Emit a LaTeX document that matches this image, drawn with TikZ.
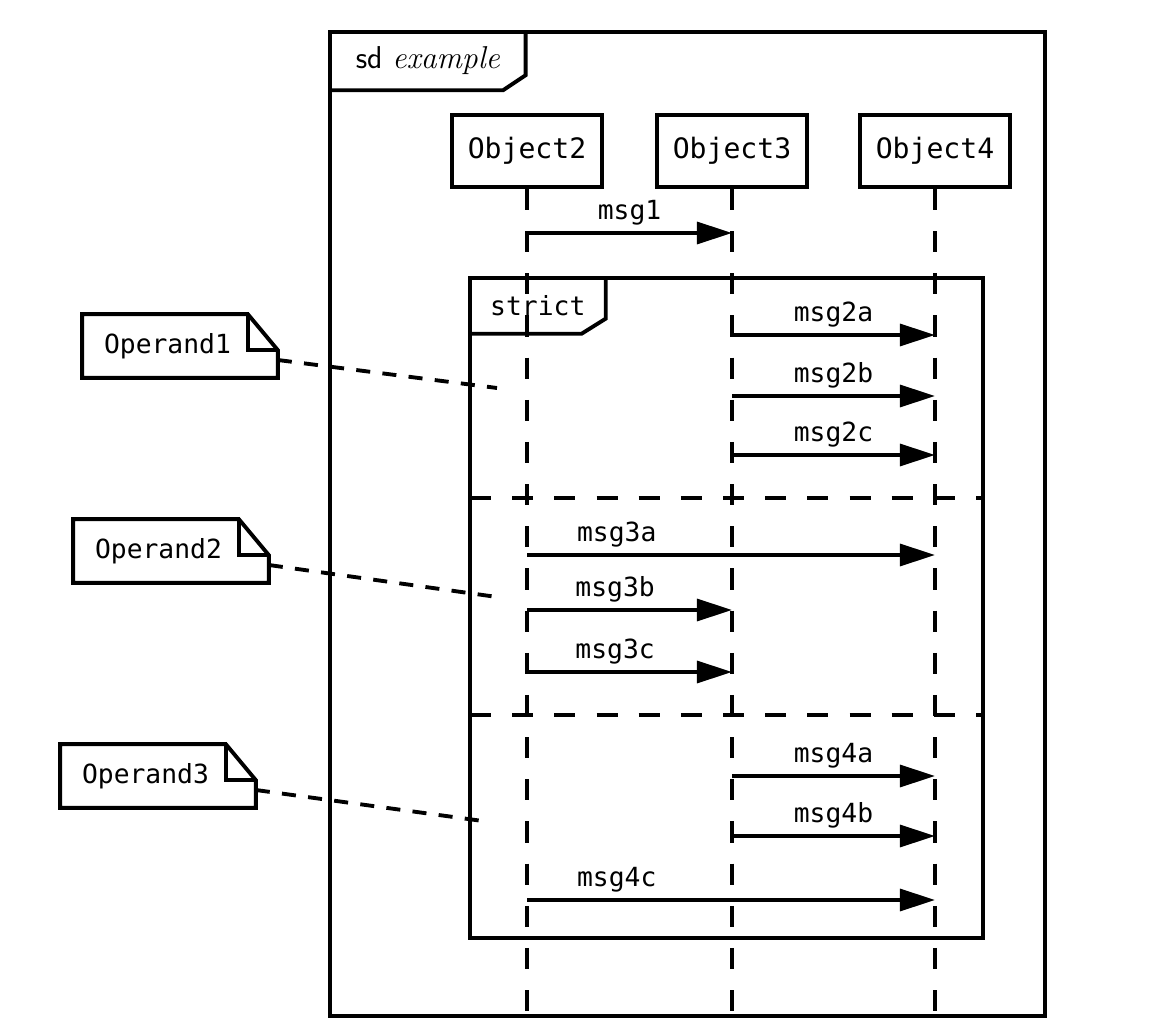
\documentclass[tikz,border=0pt]{standalone}
\usepackage{fontspec}
\setmonofont{DejaVu Sans Mono}
\usetikzlibrary{arrows.meta, positioning}

\begin{document}
\begin{tikzpicture}[
    x=0.02cm, y=-0.02cm,
    >={Triangle[length=20pt, width=12.5pt]},
    frame/.style={draw, line width=2.2pt},
    objbox/.style={rectangle, draw, line width=2.2pt, minimum width=3cm, minimum height=1.44cm, font=\fontsize{16}{19}\selectfont\ttfamily},
    notebox/.style={rectangle, minimum width=3.9cm, minimum height=1.26cm, font=\fontsize{15}{18}\selectfont\ttfamily},
    tagbox/.style={rectangle, anchor=north west, inner sep=0pt},
    lifeline/.style={line width=2.2pt, dash pattern=on 12pt off 12pt},
    opsep/.style={line width=2.2pt, dash pattern=on 12pt off 12pt},
    notelink/.style={line width=2.2pt, dash pattern=on 8pt off 7pt},
    msg/.style={->, line width=2pt},
    msglabel/.style={above, font=\fontsize{15}{18}\selectfont\ttfamily}
  ]
    \useasboundingbox (0,0) rectangle (1163,1033);

    % frames
    \draw[frame] (330,32) rectangle (1045,1016);
    \node[tagbox, minimum width=3.9cm, minimum height=1.15cm, font=\fontsize{18}{21}\selectfont] (sdtag) at (330,32) {\sffamily sd \rmfamily\itshape example};
    \draw[frame] (sdtag.south west) -- ([xshift=-0.45cm]sdtag.south east) -- ([yshift=0.3cm]sdtag.south east) -- (sdtag.north east);

    \draw[frame] (470,278) rectangle (983,938);
    \node[tagbox, minimum width=2.7cm, minimum height=1.1cm, font=\fontsize{15}{18}\selectfont\ttfamily] (stricttag) at (470,278) {strict};
    \draw[frame] (stricttag.south west) -- ([xshift=-0.48cm]stricttag.south east) -- ([yshift=0.3cm]stricttag.south east) -- (stricttag.north east);

    % lifelines
    \node[objbox] (obj2) at (527,151) {Object2};
    \node[objbox] (obj3) at (732,151) {Object3};
    \node[objbox] (obj4) at (935,151) {Object4};
    \coordinate (bot) at (0,1016);
    \foreach \o in {obj2, obj3, obj4}
      \draw[lifeline] (\o) -- (\o |- bot);

    % messages
    \coordinate (m1) at (0,233);
    \coordinate (m2a) at (0,335);
    \coordinate (m2b) at (0,396);
    \coordinate (m2c) at (0,455);
    \coordinate (m3a) at (0,555);
    \coordinate (m3b) at (0,610);
    \coordinate (m3c) at (0,672);
    \coordinate (m4a) at (0,776);
    \coordinate (m4b) at (0,836);
    \coordinate (m4c) at (0,900);

    \draw[msg] (obj2 |- m1) -- node[msglabel] {msg1} (obj3 |- m1);
    \draw[msg] (obj3 |- m2a) -- node[msglabel] {msg2a} (obj4 |- m2a);
    \draw[msg] (obj3 |- m2b) -- node[msglabel] {msg2b} (obj4 |- m2b);
    \draw[msg] (obj3 |- m2c) -- node[msglabel] {msg2c} (obj4 |- m2c);
    \draw[msg] (obj2 |- m3a) -- node[msglabel, pos=0.22] {msg3a} (obj4 |- m3a);
    \draw[msg] (obj2 |- m3b) -- node[msglabel, pos=0.43] {msg3b} (obj3 |- m3b);
    \draw[msg] (obj2 |- m3c) -- node[msglabel, pos=0.43] {msg3c} (obj3 |- m3c);
    \draw[msg] (obj3 |- m4a) -- node[msglabel] {msg4a} (obj4 |- m4a);
    \draw[msg] (obj3 |- m4b) -- node[msglabel] {msg4b} (obj4 |- m4b);
    \draw[msg] (obj2 |- m4c) -- node[msglabel, pos=0.22] {msg4c} (obj4 |- m4c);

    % operand separators
    \draw[opsep] (470,498) -- (983,498);
    \draw[opsep] (470,715) -- (983,715);

    % notes
    \node[notebox] (op1) at (180,346) {Operand1\hspace*{0.5cm}};
    \node[notebox] (op2) at (171,551) {Operand2\hspace*{0.5cm}};
    \node[notebox] (op3) at (158,776) {Operand3\hspace*{0.5cm}};
    \foreach \n in {op1, op2, op3} {
      \draw[frame] (\n.north west) -- ([xshift=-0.6cm]\n.north east) -- ([yshift=-0.72cm]\n.north east) -- (\n.south east) -- (\n.south west) -- cycle;
      \draw[frame] ([xshift=-0.6cm]\n.north east) |- ([yshift=-0.72cm]\n.north east);
    }
    \coordinate (c1) at (497,388);
    \coordinate (c2) at (497,597);
    \coordinate (c3) at (490,822);
    \draw[notelink] ([yshift=-0.28cm]op1.east) -- (c1);
    \draw[notelink] ([yshift=-0.28cm]op2.east) -- (c2);
    \draw[notelink] ([yshift=-0.28cm]op3.east) -- (c3);
  \end{tikzpicture}
\end{document}
